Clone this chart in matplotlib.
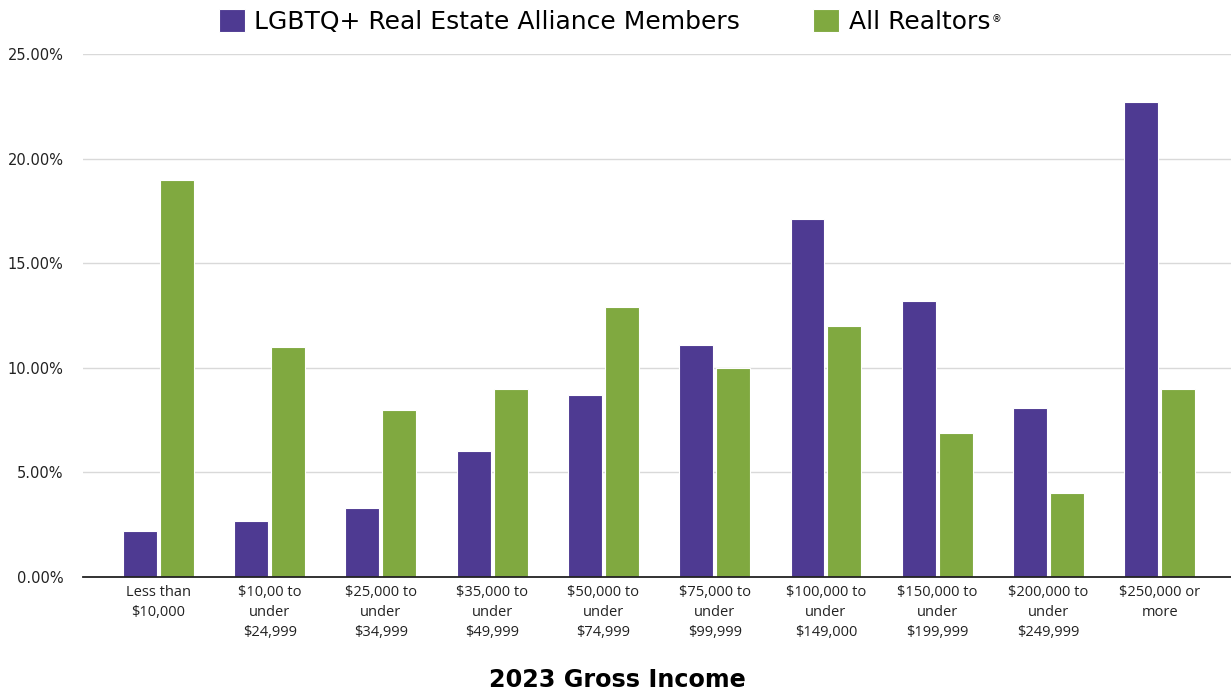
import numpy as np
import matplotlib.pyplot as plt

# income brackets (tick labels) and shares in %
categories = [
    "Less than\n$10,000",
    "$10,00 to\nunder\n$24,999",
    "$25,000 to\nunder\n$34,999",
    "$35,000 to\nunder\n$49,999",
    "$50,000 to\nunder\n$74,999",
    "$75,000 to\nunder\n$99,999",
    "$100,000 to\nunder\n$149,000",
    "$150,000 to\nunder\n$199,999",
    "$200,000 to\nunder\n$249,999",
    "$250,000 or\nmore",
]
lgbtq = [2.2, 2.7, 3.3, 6.0, 8.7, 11.1, 17.1, 13.2, 8.1, 22.7]
realtors = [19.0, 11.0, 8.0, 9.0, 12.9, 10.0, 12.0, 6.9, 4.0, 9.0]
yticks = [0, 5, 10, 15, 20, 25]

PURPLE = "#4E3A92"
GREEN = "#80A940"

plt.rcParams["font.family"] = ["Open Sans", "DejaVu Sans"]

fig = plt.figure(figsize=(12.31, 6.93), dpi=100)
ax = fig.add_axes([0.0674, 0.1674, 0.9326, 0.7547])

x = np.arange(len(categories))
w = 0.305
off = 0.166
ax.bar(x - off, lgbtq, w, color=PURPLE, edgecolor="white", linewidth=0.8,
       label="LGBTQ+ Real Estate Alliance Members", zorder=3)
ax.bar(x + off, realtors, w, color=GREEN, edgecolor="white", linewidth=0.8,
       label="All Realtors", zorder=3)

ax.set_xlim(-0.678, 9.64)
ax.set_ylim(0, 25)
ax.set_yticks(yticks)
ax.set_yticklabels([f"{v:.2f}%" for v in yticks], fontsize=10.5, color="#222222",
                   family="DejaVu Sans")
ax.set_xticks(x)
ax.set_xticklabels(categories, fontsize=10.5, color="#222222", linespacing=1.45)
ax.tick_params(axis="y", length=0, pad=14)
ax.tick_params(axis="x", length=0, pad=6)

ax.grid(axis="y", color="#d9d9d9", linewidth=1, zorder=0)
for s in ["top", "right", "left"]:
    ax.spines[s].set_visible(False)
ax.spines["bottom"].set_color("#222222")
ax.spines["bottom"].set_linewidth(1.3)
ax.spines["bottom"].set_zorder(4)

fig.text(0.5015, 1 - 687 / 693, "2023 Gross Income", ha="center", va="baseline",
         fontsize=17.2, fontweight="bold", color="black", family="DejaVu Sans")

leg = fig.legend(loc="center", bbox_to_anchor=(0.491, 0.969), ncol=2, frameon=False,
                 prop={"family": "DejaVu Sans", "size": 18},
                 handlelength=1.05, handleheight=1.05, handletextpad=0.38,
                 columnspacing=2.9)

# small registered mark after "All Realtors"
fig.canvas.draw()
bb = leg.get_texts()[1].get_window_extent()
fig.text((bb.x1 + 2) / fig.bbox.width, (bb.y1 - 4) / fig.bbox.height, "®",
         fontsize=7, ha="left", va="top", family="DejaVu Sans")

fig.savefig("out.png", dpi=100)
